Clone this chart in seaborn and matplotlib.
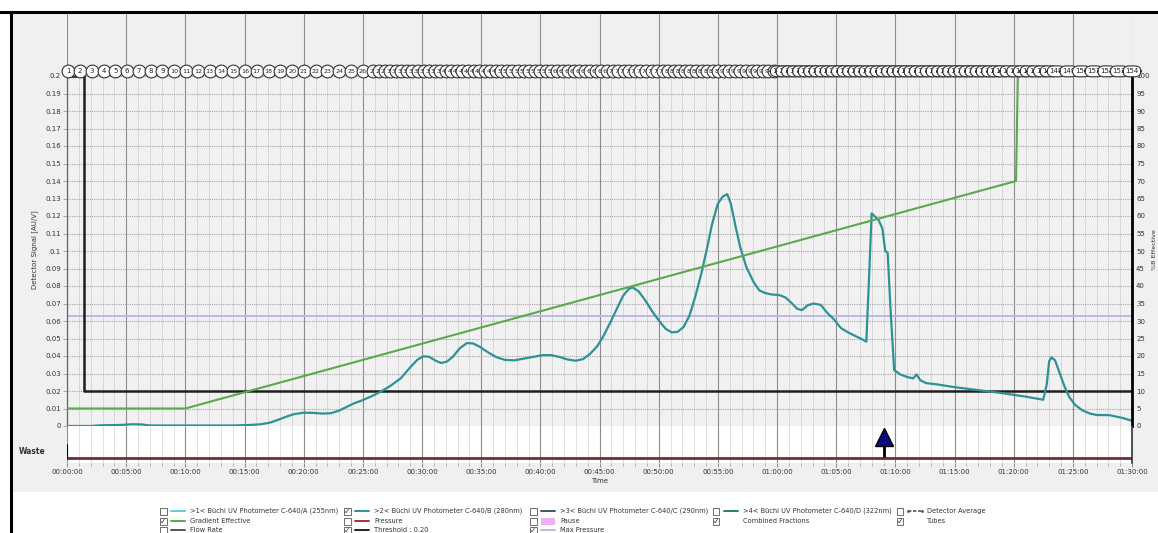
import numpy as np
import pandas as pd
import matplotlib
matplotlib.use("Agg")
import matplotlib.pyplot as plt
import seaborn as sns
from matplotlib.lines import Line2D
from matplotlib.patches import Rectangle
from matplotlib.ticker import MultipleLocator, FuncFormatter

# ---------------- run data ----------------
# UV trace (280 nm), time in minutes, signal in AU
trace_time = [0, 2.0, 2.8, 4.5, 5.5, 6.3, 7.0, 10, 14.0, 15.5, 16.4, 17.2, 17.9, 18.6, 19.2,
              20.0, 20.8, 21.6, 22.3, 23.0, 23.6, 24.2, 25.0, 25.8, 26.5, 27.3, 28.2, 29.0,
              29.6, 30.1, 30.6, 31.1, 31.6, 32.1, 32.6, 33.2, 33.8, 34.3, 34.9, 35.6, 36.3,
              37.0, 37.8, 38.6, 39.4, 40.2, 40.9, 41.6, 42.3, 43.0, 43.6, 44.2, 44.8, 45.3,
              45.9, 46.5, 47.0, 47.5, 47.8, 48.3, 48.9, 49.5, 50.1, 50.6, 51.1, 51.6, 52.1,
              52.6, 53.1, 53.6, 54.1, 54.5, 55.0, 55.4, 55.8, 56.1, 56.5, 56.9, 57.4, 58.0,
              58.5, 59.0, 59.5, 60.2, 60.7, 61.2, 61.7, 62.1, 62.6, 63.1, 63.7, 64.2, 64.8,
              65.4, 66.0, 66.6, 67.2, 67.55, 67.75, 68.0, 68.3, 68.6, 68.9, 69.15, 69.35,
              69.6, 69.9, 70.4, 71.0, 71.5, 71.8, 72.1, 72.6, 73.5, 75.0, 77.0, 79.0, 81.0,
              82.5, 82.8, 83.0, 83.2, 83.5, 83.9, 84.3, 84.7, 85.2, 85.8, 86.4, 87.0, 88.1,
              89.2, 90.0]
trace_signal = [0.0, 0.0, 0.0004, 0.0006, 0.001, 0.0009, 0.0003, 0.0003, 0.0003, 0.0006,
                0.001, 0.002, 0.0037, 0.0055, 0.0068, 0.0076, 0.0075, 0.0071, 0.0073, 0.0088,
                0.0108, 0.0128, 0.0148, 0.0172, 0.0196, 0.0228, 0.0272, 0.0335, 0.0378,
                0.0398, 0.0396, 0.0375, 0.0360, 0.0368, 0.0395, 0.0445, 0.0474, 0.0472,
                0.0452, 0.0420, 0.0393, 0.0378, 0.0375, 0.0385, 0.0395, 0.0405, 0.0405,
                0.0395, 0.0380, 0.0373, 0.0382, 0.0412, 0.0455, 0.0510, 0.0590, 0.0675,
                0.0745, 0.0785, 0.0792, 0.0770, 0.0715, 0.0650, 0.0595, 0.0555, 0.0535,
                0.0538, 0.0565, 0.0630, 0.0740, 0.0870, 0.1020, 0.1150, 0.1270, 0.1310,
                0.1325, 0.1270, 0.1140, 0.1020, 0.0910, 0.0825, 0.0775, 0.0760, 0.0752,
                0.0748, 0.0735, 0.0705, 0.0670, 0.0662, 0.0690, 0.0700, 0.0692, 0.0650,
                0.0610, 0.0560, 0.0535, 0.0515, 0.0495, 0.0482, 0.0800, 0.1215, 0.1195,
                0.1175, 0.1130, 0.1000, 0.0990, 0.0660, 0.0320, 0.0295, 0.0280, 0.0272,
                0.0295, 0.0262, 0.0245, 0.0238, 0.0222, 0.0205, 0.0188, 0.0168, 0.0150,
                0.0240, 0.0370, 0.0392, 0.0375, 0.0300, 0.0225, 0.0165, 0.0120, 0.0090,
                0.0072, 0.0063, 0.0062, 0.0046, 0.0030]

# effective gradient (%B)
gradient_time = [0, 10, 80.2, 80.35, 90]
gradient_pct = [5, 5, 70, 100, 100]

# collection threshold (AU)
threshold_time = [0, 1.45, 1.45, 90]
threshold_au = [0.2, 0.2, 0.02, 0.02]

max_pressure_au = 0.063
waste_event_time = 69.0

# fraction tubes: (first tube, last tube, first start [min], last start [min])
fraction_segments = [(1, 26, 0.1, 25.0), (27, 140, 25.9, 79.0),
                     (141, 147, 79.6, 83.0), (148, 154, 83.6, 90.0)]

signal_ticks = [round(0.01 * i, 2) for i in range(21)]
pct_ticks = list(range(0, 101, 5))

# ---------------- styling ----------------
W, H = 1158, 533
sns.set_style("white")
plt.rcParams["font.family"] = ["DejaVu Sans"]
FS = 5.0
C_TRACE = "#2f9196"
C_GRAD = "#5aa94a"

fig = plt.figure(figsize=(W / 100, H / 100), dpi=100)
fig.patch.set_facecolor("white")


def fx(x):
    return x / W


def fy(y):
    return 1 - y / H


def rect(x0, y0, x1, y1):
    return [fx(x0), fy(y1), fx(x1) - fx(x0), fy(y0) - fy(y1)]


# panel background and window frame
fig.patches.append(Rectangle((fx(12), fy(492)), fx(W) - fx(12), fy(14) - fy(492),
                             transform=fig.transFigure, fc="#f0f0f0", ec="none", zorder=-10))
fig.lines.append(Line2D([0, 1], [fy(12), fy(12)], transform=fig.transFigure,
                        color="black", lw=2.2))
fig.lines.append(Line2D([fx(11), fx(11)], [fy(12), 0], transform=fig.transFigure,
                        color="black", lw=2.2))

X0, X1 = 67, 1132
ax = fig.add_axes(rect(X0, 76, X1, 426))
ax2 = ax.twinx()
ax_w = fig.add_axes(rect(X0, 426, X1, 463))
ax_h = fig.add_axes(rect(X0, 14, X1, 76))

for a in (ax, ax_w, ax_h):
    a.set_xlim(0, 90)
    a.xaxis.set_major_locator(MultipleLocator(5))
    a.xaxis.set_minor_locator(MultipleLocator(1))

# ---- main detector panel ----
ax.set_facecolor("#f1f1f1")
ax.set_ylim(0, 0.2)
ax.set_yticks(signal_ticks)
ax.yaxis.set_major_formatter(FuncFormatter(lambda v, p: f"{v:g}"))
ax.grid(which="major", axis="x", color="#8c8c8c", lw=0.8)
ax.grid(which="minor", axis="x", color="#d2d2d2", lw=0.6)
ax.grid(which="major", axis="y", color="#a5a5a5", lw=0.8, ls=(0, (1, 1)))
ax.set_axisbelow(True)
ax.tick_params(axis="x", which="both", length=0, labelbottom=False)
ax.tick_params(axis="y", length=3, width=0.6, color="#999999", labelsize=FS,
               labelcolor="#333333", pad=1.5)
for s in ("top", "bottom", "right"):
    ax.spines[s].set_visible(False)
ax.spines["left"].set_color("#666666")
ax.spines["left"].set_linewidth(0.9)

ax.axhline(max_pressure_au, color="#b9b9ea", lw=1.4, zorder=2)

df_thr = pd.DataFrame({"time": threshold_time, "au": threshold_au})
sns.lineplot(data=df_thr, x="time", y="au", ax=ax, color="#1e1e1e", lw=1.8,
             estimator=None, sort=False, zorder=3)

df_trace = pd.DataFrame({"time": trace_time, "signal": trace_signal})
sns.lineplot(data=df_trace, x="time", y="signal", ax=ax, color=C_TRACE, lw=1.6,
             estimator=None, zorder=4)
ax.set_xlabel("")
ax.set_ylabel("")

# ---- gradient on the %B axis ----
ax2.set_ylim(0, 100)
ax2.set_yticks(pct_ticks)
df_grad = pd.DataFrame({"time": gradient_time, "pct": gradient_pct})
sns.lineplot(data=df_grad, x="time", y="pct", ax=ax2, color=C_GRAD, lw=1.5,
             estimator=None, sort=False)
ax2.set_xlabel("")
ax2.set_ylabel("")
ax2.grid(False)
for s in ("top", "bottom", "left"):
    ax2.spines[s].set_visible(False)
ax2.spines["right"].set_color("black")
ax2.spines["right"].set_linewidth(2.0)
ax2.tick_params(axis="y", length=0, labelsize=FS, labelcolor="#333333", pad=3)
ax2.tick_params(axis="x", length=0, labelbottom=False)

# ---- waste lane ----
ax_w.set_facecolor("white")
ax_w.set_ylim(0, 1)
ax_w.set_yticks([])
ax_w.grid(which="major", axis="x", color="#8c8c8c", lw=0.8)
ax_w.grid(which="minor", axis="x", color="#dcdcdc", lw=0.6)
ax_w.set_axisbelow(True)
for s in ("top", "left", "bottom"):
    ax_w.spines[s].set_visible(False)
ax_w.spines["right"].set_color("#333333")
ax_w.spines["right"].set_linewidth(1.2)
ax_w.xaxis.set_major_formatter(FuncFormatter(
    lambda m, p: "{:02d}:{:02d}:{:02d}".format(int(round(m * 60)) // 3600,
                                             (int(round(m * 60)) % 3600) // 60,
                                             int(round(m * 60)) % 60)))
ax_w.tick_params(axis="x", which="major", length=3, width=0.6, color="#777777",
                 labelsize=FS, labelcolor="#333333", pad=1.5, bottom=True)
ax_w.tick_params(axis="x", which="minor", length=2, width=0.5, color="#999999", bottom=True)
ax_w.axhline(0.135, color="#6e3030", lw=2.0)
ax_w.axvline(0, ymin=0.135, ymax=0.5, color="black", lw=1.5)
ax_w.vlines([waste_event_time], 0.15, 0.45, color="black", lw=2.0)
ax_w.plot([waste_event_time], [0.70], marker="^", ms=13, color="#0b0b80",
          mec="black", mew=1.0, clip_on=False, zorder=5)

# ---- fraction tube strip ----
ax_h.set_facecolor("#f0f0f0")
ax_h.set_ylim(0, 1)
ax_h.set_yticks([])
ax_h.grid(which="major", axis="x", color="#8c8c8c", lw=0.8)
ax_h.tick_params(axis="x", which="both", length=0, labelbottom=False)
for s in ax_h.spines.values():
    s.set_visible(False)

ROW_Y = 0.075
k = 0
for first, last, t0, t1 in fraction_segments:
    starts = np.linspace(t0, t1, last - first + 1)
    for tube, t in zip(range(first, last + 1), starts):
        label = str(tube)
        z = 10 + k * 0.002
        if len(label) < 3:
            ax_h.plot([t], [ROW_Y], marker="o", ms=9.2, mfc="white", mec="#333333",
                      mew=0.8, clip_on=False, zorder=z)
            ax_h.text(t, ROW_Y, label, ha="center", va="center",
                      fontsize=5.0 if len(label) == 1 else 4.6, color="#222222",
                      clip_on=False, zorder=z + 0.001)
        else:
            ax_h.text(t, ROW_Y, label, ha="center", va="center", fontsize=5.0,
                      color="#222222", clip_on=False, zorder=z + 0.001,
                      bbox=dict(boxstyle="round,pad=0.35,rounding_size=0.9",
                                fc="white", ec="#333333", lw=0.8))
        k += 1

# ---- axis titles ----
fig.text(fx(35), fy(250), "Detector Signal [AU/V]", rotation=90, ha="center",
         va="center", fontsize=FS, color="#333333")
fig.text(fx(1154), fy(250), "%B Effective", rotation=90, ha="center", va="center",
         fontsize=4.6, color="#333333")
fig.text(fx(32), fy(452), "Waste", ha="center", va="center", fontsize=5.5,
         color="#333333", fontweight="bold")
fig.text(fx(600), fy(481), "Time", ha="center", va="center", fontsize=FS,
         color="#333333")

# ---- legend ----
rows = [511, 521, 530]
cols = [163, 347, 533, 716, 900]
legend_items = [
    (0, 0, False, "line", "#5fd0d6", ">1< Büchi UV Photometer C-640/A (255nm)"),
    (1, 0, True, "line", C_TRACE, ">2< Büchi UV Photometer C-640/B (280nm)"),
    (2, 0, False, "line", "#3d5a66", ">3< Büchi UV Photometer C-640/C (290nm)"),
    (3, 0, False, "line", "#2a7a70", ">4< Büchi UV Photometer C-640/D (322nm)"),
    (4, 0, False, "dash", "#555555", "Detector Average"),
    (0, 1, True, "line", C_GRAD, "Gradient Effective"),
    (1, 1, False, "line", "#a83232", "Pressure"),
    (2, 1, False, "box", "#eeb0ee", "Pause"),
    (3, 1, True, None, None, "Combined Fractions"),
    (4, 1, True, None, None, "Tubes"),
    (0, 2, False, "line", "#555555", "Flow Rate"),
    (1, 2, True, "line", "#222222", "Threshold : 0.20"),
    (2, 2, True, "line", "#b9b9ea", "Max Pressure"),
]
for ci, ri, checked, kind, color, text in legend_items:
    cx, cy = cols[ci], rows[ri]
    fig.patches.append(Rectangle((fx(cx - 3.5), fy(cy + 3.5)), 7 / W, 7 / H,
                                 transform=fig.transFigure, fc="white", ec="#555555",
                                 lw=0.6))
    if checked:
        fig.text(fx(cx), fy(cy), "✓", ha="center", va="center", fontsize=5.5,
                 color="#333333")
    if kind == "line":
        fig.lines.append(Line2D([fx(cx + 8), fx(cx + 22)], [fy(cy), fy(cy)],
                                transform=fig.transFigure, color=color, lw=1.4))
    elif kind == "dash":
        fig.lines.append(Line2D([fx(cx + 8), fx(cx + 22)], [fy(cy), fy(cy)],
                                transform=fig.transFigure, color=color, lw=1.2,
                                ls=(0, (2, 1)), marker=".", ms=2, markevery=[0, 1]))
    elif kind == "box":
        fig.patches.append(Rectangle((fx(cx + 8), fy(cy + 3.5)), 14 / W, 7 / H,
                                     transform=fig.transFigure, fc=color, ec="none"))
    fig.text(fx(cx + 27), fy(cy), text, ha="left", va="center", fontsize=4.8,
             color="#333333")

fig.savefig("out.png", dpi=100)
